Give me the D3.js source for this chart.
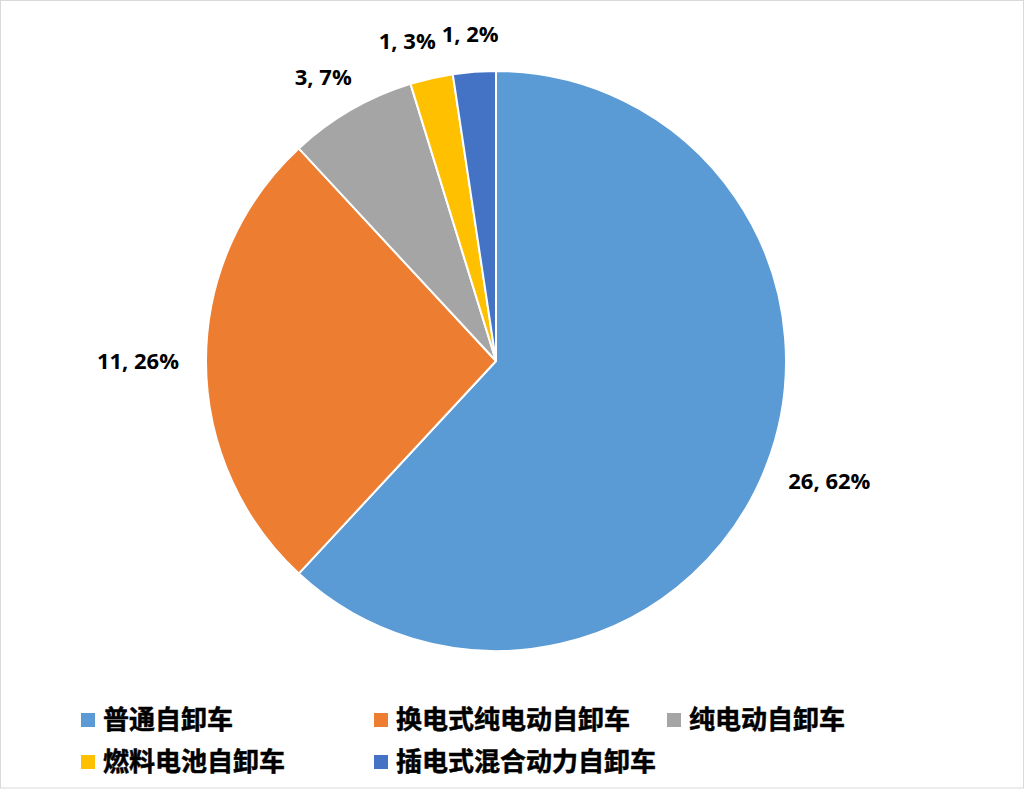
<!DOCTYPE html>
<html>
<head>
<meta charset="utf-8">
<script src="https://cdn.jsdelivr.net/npm/d3@7"></script>
<style>
    body { margin: 0; background: #fff; }
    svg { display: block; }
</style>
</head>
<body>
<div id="chart"></div>
<script>
// Chart data
var categories = ['普通自卸车', '换电式纯电动自卸车', '纯电动自卸车', '燃料电池自卸车', '插电式混合动力自卸车'];
var values = [26, 11, 3, 1, 1];
var percentLabels = ['62%', '26%', '7%', '3%', '2%'];
var colors = ['#5B9BD5', '#ED7D31', '#A5A5A5', '#FFC000', '#4472C4'];

var W = 1024, H = 790;
var cx = 496, cy = 361, r = 290;

var svg = d3.select('#chart').append('svg')
    .attr('width', W)
    .attr('height', H);

svg.append('rect')
    .attr('x', 0.5).attr('y', 0.5)
    .attr('width', W - 1).attr('height', H - 2.5)
    .attr('fill', '#fff')
    .attr('stroke', '#d9d9d9');

var pie = d3.pie().sort(null).value(function(d){ return d; });
var arc = d3.arc().innerRadius(0).outerRadius(r);
var arcs = pie(values);

var g = svg.append('g').attr('transform', 'translate(' + cx + ',' + cy + ')');

g.selectAll('path')
    .data(arcs)
  .enter().append('path')
    .attr('d', arc)
    .attr('fill', function(d, i){ return colors[i]; })
    .attr('stroke', '#fff')
    .attr('stroke-width', 2)
    .attr('stroke-linejoin', 'round');

//--------------------------------------------------------------
// Data labels, outside end

var gap = 27, boxH = 22;
var labels = g.selectAll('text.lbl')
    .data(arcs)
  .enter().append('text')
    .attr('class', 'lbl')
    .attr('text-anchor', 'middle')
    .attr('font-family', '"Open Sans", "Noto Sans", sans-serif')
    .attr('font-weight', 'bold')
    .attr('font-size', 22)
    .attr('fill', '#000')
    .text(function(d, i){ return values[i] + ', ' + percentLabels[i]; });

var boxes = [];
labels.each(function(d, i)
{
    var a = (d.startAngle + d.endAngle) / 2;
    var w = this.getComputedTextLength();
    var px = Math.sin(a) * (r + gap), py = -Math.cos(a) * (r + gap);
    boxes.push({x: px + Math.sin(a) * w / 2, y: py - Math.cos(a) * boxH / 2, w: w, el: this});
});

// push apart overlapping labels
for (var k = 0; k < 5; k++)
    for (var i = 0; i < boxes.length; i++)
        for (var j = i + 1; j < boxes.length; j++)
        {
            var a = boxes[i], b = boxes[j];
            var ox = (a.w + b.w) / 2 + 6 - Math.abs(a.x - b.x);
            if (ox > 0 && Math.abs(a.y - b.y) < boxH)
            {
                // move the label further from the top centre line
                if (Math.abs(a.x) > Math.abs(b.x))
                    a.x += (a.x < b.x ? -1 : 1) * ox;
                else
                    b.x += (b.x < a.x ? -1 : 1) * ox;
            }
        }

boxes.forEach(function(b)
{
    d3.select(b.el).attr('x', b.x).attr('y', b.y + 8);
});

//--------------------------------------------------------------
// Legend

var colW = 293, rowH = 42, lx = 81, ly = 720, perRow = 3;
var legend = svg.append('g');

var items = legend.selectAll('g')
    .data(categories)
  .enter().append('g')
    .attr('transform', function(d, i){
        return 'translate(' + (lx + (i % perRow) * colW) + ',' + (ly + Math.floor(i / perRow) * rowH) + ')';
    });

items.append('rect')
    .attr('x', 0).attr('y', -7)
    .attr('width', 14).attr('height', 14)
    .attr('fill', function(d, i){ return colors[i]; });

items.append('text')
    .attr('x', 22)
    .attr('y', 9)
    .attr('font-family', '"Noto Sans CJK SC", sans-serif')
    .attr('font-weight', 'bold')
    .attr('font-size', 26)
    .attr('fill', '#000')
    .attr('stroke', '#000')
    .attr('stroke-width', 0.5)
    .text(function(d){ return d; });
</script>
</body>
</html>
